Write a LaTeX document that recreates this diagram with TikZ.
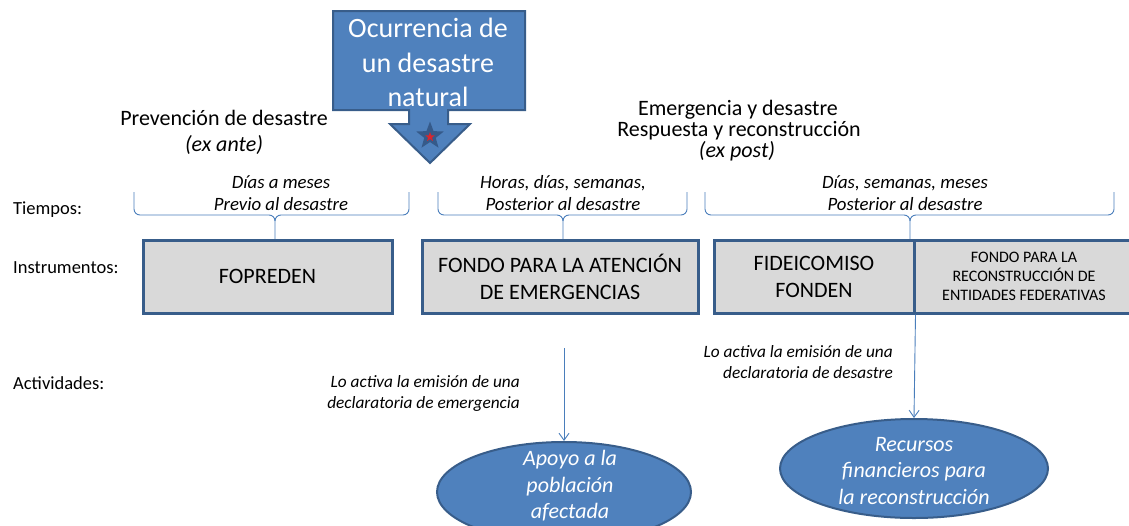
\documentclass[tikz,border=0pt]{standalone}
\usepackage{fontspec}
\setmainfont{Carlito}
\usetikzlibrary{shapes.geometric,arrows.meta}
\definecolor{bluefill}{HTML}{4F81BD}
\definecolor{bluedark}{HTML}{385D8A}
\definecolor{boxfill}{HTML}{D9D9D9}
\definecolor{lineblue}{HTML}{4A7EBB}
\definecolor{starred}{HTML}{D7262E}
\definecolor{stardark}{HTML}{355A8A}
\tikzset{
  instbox/.style={draw=bluedark, line width=3pt, fill=boxfill, inner sep=0pt, align=center, text=black},
  blueell/.style={ellipse, draw=bluedark, line width=2pt, fill=bluefill, inner sep=0pt},
  elltxt/.style={inner sep=0pt, align=center, text=white, font=\fontsize{22}{26.5}\selectfont\itshape},
  bracepath/.style={draw=lineblue, line width=0.9pt},
  arr/.style={draw=lineblue, line width=0.9pt, -{Straight Barb[length=7pt,width=10pt]}},
  lbl/.style={anchor=west, inner sep=0pt, font=\fontsize{18.5}{22}\selectfont},
  head/.style={inner sep=0pt, font=\fontsize{22}{27}\selectfont},
  bracetxt/.style={inner sep=0pt, align=center, font=\fontsize{18.8}{22}\selectfont\itshape},
  note/.style={inner sep=0pt, align=right, anchor=east, font=\fontsize{17.3}{21}\selectfont\itshape},
}
\begin{document}
\begin{tikzpicture}[x=1pt,y=-1pt]
\useasboundingbox (0,0) rectangle (1129,525);
% callout
\draw[fill=bluefill, draw=bluedark, line width=2pt, line join=miter]
  (333,11) -- (525,11) -- (525,110) -- (448,110) -- (448,124) -- (470,124) -- (430,163)
  -- (390,124) -- (409,124) -- (409,110) -- (333,110) -- cycle;
\node[head, text=white, font=\fontsize{28}{34}\selectfont] (oc1) at (428,28) {Ocurrencia de};
\node[head, text=white, font=\fontsize{28}{34}\selectfont] (oc2) at (428,63) {un desastre};
\node[head, text=white, font=\fontsize{28}{34}\selectfont] (oc3) at (428,97) {natural};
\node[star, star points=5, star point ratio=2.4, minimum size=29pt, fill=stardark, inner sep=0pt] (st1) at (430,136) {};
\node[star, star points=5, star point ratio=2.4, minimum size=10pt, fill=starred, inner sep=0pt] (st2) at (430,137) {};
% headings
\node[head] (pv1) at (224,118) {Prevención de desastre};
\node[head, font=\fontsize{22}{27}\selectfont\itshape] (pv2) at (224,145) {(ex ante)};
\node[head] (em1) at (738,110) {Emergencia y desastre};
\node[head] (em2) at (739,131) {Respuesta y reconstrucción};
\node[head, font=\fontsize{22}{27}\selectfont\itshape] (em3) at (737,151) {(ex post)};
% row labels
\node[lbl] (tiempos) at (13,210) {Tiempos:};
\node[lbl] (instr) at (13,268) {Instrumentos:};
\node[lbl] (activ) at (13,383) {Actividades:};
% brace texts
\node[bracetxt] (bt1) at (281,193) {Días a meses\\Previo al desastre};
\node[bracetxt] (bt2) at (563,193) {Horas, días, semanas,\\Posterior al desastre};
\node[bracetxt] (bt3) at (905,193) {Días, semanas, meses\\Posterior al desastre};
% braces
\draw[bracepath] (134,192) -- (134,209) to[out=-90,in=180] (140,215) -- (269,215) to[out=0,in=90] (275,221) -- (275,239);
\draw[bracepath] (409,192) -- (409,209) to[out=-90,in=0] (403,215) -- (281,215) to[out=180,in=90] (275,221);
\draw[bracepath] (438,192) -- (438,209) to[out=-90,in=180] (444,215) -- (557,215) to[out=0,in=90] (563,221) -- (563,239);
\draw[bracepath] (687,192) -- (687,209) to[out=-90,in=0] (681,215) -- (569,215) to[out=180,in=90] (563,221);
\draw[bracepath] (705,192) -- (705,209) to[out=-90,in=180] (711,215) -- (904,215) to[out=0,in=90] (910,221) -- (910,239);
\draw[bracepath] (1114,192) -- (1114,209) to[out=-90,in=0] (1108,215) -- (916,215) to[out=180,in=90] (910,221);
% boxes
\node[instbox, minimum width=249pt, minimum height=73pt, font=\fontsize{22}{27}\selectfont] (fop) at (267.5,276.5) {FOPREDEN};
\node[instbox, minimum width=276pt, minimum height=73pt, font=\fontsize{22}{27}\selectfont] (fae) at (560,276.5) {FONDO PARA LA ATENCIÓN\\DE EMERGENCIAS};
\node[instbox, minimum width=200pt, minimum height=73pt, font=\fontsize{22}{27}\selectfont] (fid) at (814,276.5) {FIDEICOMISO\\FONDEN};
\node[instbox, minimum width=220pt, minimum height=73pt, font=\fontsize{16}{19}\selectfont] (frf) at (1024,276.5) {FONDO PARA LA\\RECONSTRUCCIÓN DE\\ENTIDADES FEDERATIVAS};
% notes
\node[note] (n1) at (520,393.5) {Lo activa la emisión de una\\declaratoria de emergencia};
\node[note] (n2) at (893,362) {Lo activa la emisión de una\\declaratoria de desastre};
% ellipses
\node[blueell, minimum width=254pt, minimum height=100pt] (e1) at (564,492) {};
\node[elltxt] (e1t) at (570,486) {Apoyo a la\\población\\afectada};
\node[blueell, minimum width=268pt, minimum height=99pt] (e2) at (914,468.5) {};
\node[elltxt] (e2t) at (914,471) {Recursos\\financieros para\\la reconstrucción};
% arrows
\coordinate (a1) at (564,348);
\draw[arr] (a1) -- (e1.north);
\draw[arr] (fid.south east) -- (e2.north);
\end{tikzpicture}
\end{document}
